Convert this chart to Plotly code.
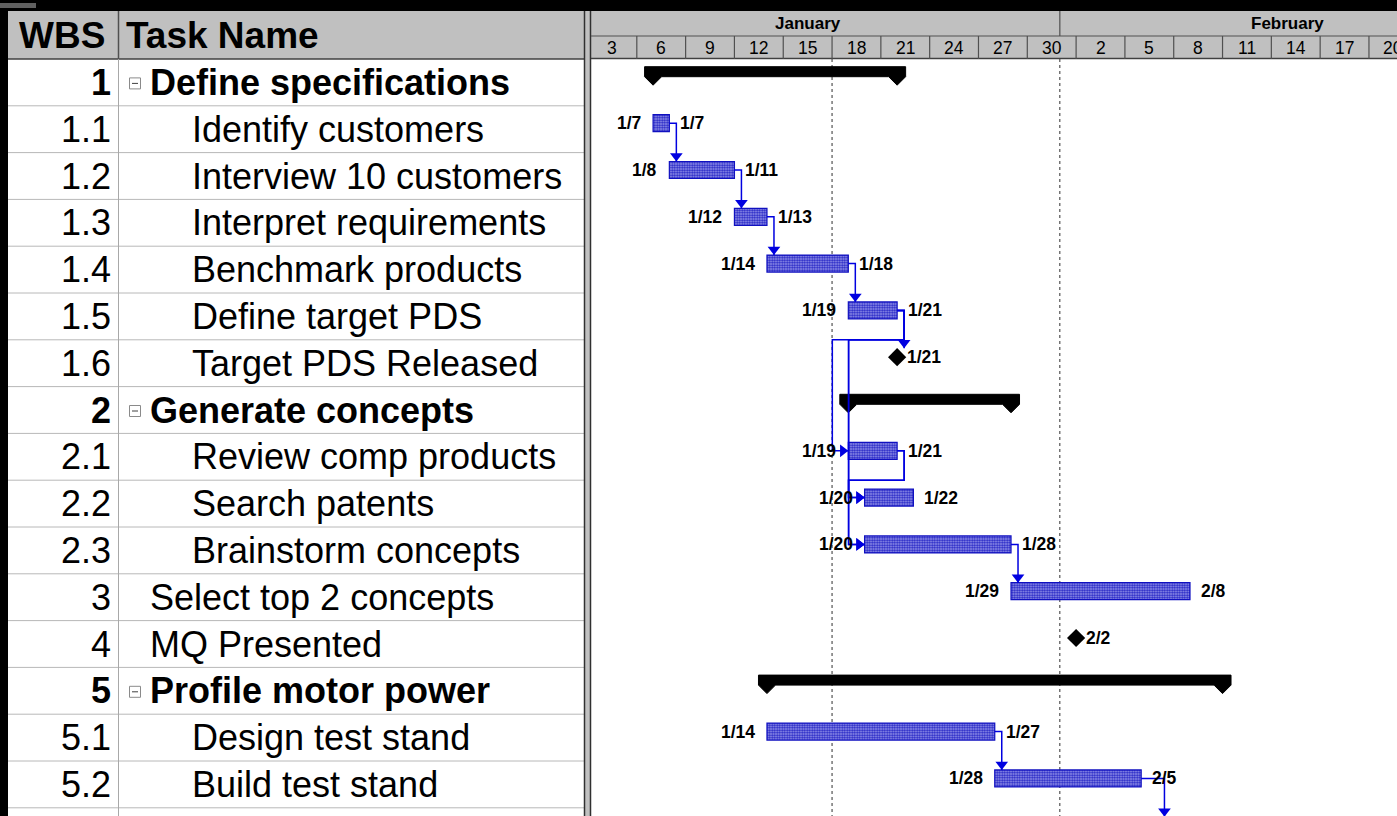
import plotly.graph_objects as go

W, H = 1397, 816

# ---------------- data ----------------
wbs = ["1", "1.1", "1.2", "1.3", "1.4", "1.5", "1.6", "2", "2.1", "2.2", "2.3",
       "3", "4", "5", "5.1", "5.2", "5.3"]
names = ["Define specifications", "Identify customers", "Interview 10 customers",
         "Interpret requirements", "Benchmark products", "Define target PDS",
         "Target PDS Released", "Generate concepts", "Review comp products",
         "Search patents", "Brainstorm concepts", "Select top 2 concepts",
         "MQ Presented", "Profile motor power", "Design test stand",
         "Build test stand", ""]
kinds = ["summary", "task", "task", "task", "task", "task", "milestone", "summary",
         "task", "task", "task", "task", "milestone", "summary", "task", "task", "task"]
starts = ["01-07", "01-07", "01-08", "01-12", "01-14", "01-19", "01-21", "01-19",
          "01-19", "01-20", "01-20", "01-29", "02-02", "01-14", "01-14", "01-28", "02-07"]
finishes = ["01-21", "01-07", "01-11", "01-13", "01-18", "01-21", "01-21", "01-28",
            "01-21", "01-22", "01-28", "02-08", "02-02", "02-10", "01-27", "02-05", "02-09"]
milestone_at_day_end = {"1.6": True, "4": False}
links = [("1.1", "1.2"), ("1.2", "1.3"), ("1.3", "1.4"), ("1.4", "1.5"),
         ("1.5", "1.6"), ("1.5", "2.1"), ("1.5", "2.2"), ("1.5", "2.3"),
         ("2.1", "2.2"), ("2.1", "2.3"), ("2.3", "3"), ("5.1", "5.2"), ("5.2", "5.3")]

months = ["January", "February"]
month_first = ["01-01", "02-01"]
month_len = [31, 28]
tick_labels = ["3", "6", "9", "12", "15", "18", "21", "24", "27", "30",
               "2", "5", "8", "11", "14", "17", "20"]
tick_dates = ["01-03", "01-06", "01-09", "01-12", "01-15", "01-18", "01-21", "01-24",
              "01-27", "01-30", "02-02", "02-05", "02-08", "02-11", "02-14", "02-17", "02-20"]
dotted_dates = ["01-18", "02-01"]

# ---------------- helpers ----------------
FONT = "Liberation Sans, Arial, sans-serif"
MONTH_OFFSET = {"01": 0, "02": 31}


def day(md):
    m, d = md.split("-")
    return MONTH_OFFSET[m] + int(d) - 1


def mlabel(md):
    m, d = md.split("-")
    return f"{int(m)}/{int(d)}"


PPD = 16.27            # pixels per day
X_REF_PX = 588         # pixel at start of Jan 3
X_REF_DAY = day("01-03")
GANTT_L = 591
ROW_TOP = 59
ROW_H = 46.8
HDR_TOP = 11
TIER_Y = 36


def dx(p):
    return p / PPD


def dy(p):
    return p / ROW_H


def px(x):
    return x / W


def py(y):
    return 1 - y / H


x_lo = X_REF_DAY + (GANTT_L - X_REF_PX) / PPD
x_hi = X_REF_DAY + (W - X_REF_PX) / PPD
y_hi = (H - ROW_TOP) / ROW_H

n = len(wbs)
row_of = {w: i for i, w in enumerate(wbs)}


def x_start(i):
    if kinds[i] == "milestone":
        return day(starts[i]) + (1 if milestone_at_day_end.get(wbs[i]) else 0)
    return day(starts[i])


def x_end(i):
    if kinds[i] == "milestone":
        return x_start(i)
    return day(finishes[i]) + 1


def y_bar(i):
    return i + 0.5 - dy(6)


def y_top(i):
    return y_bar(i) - dy(9 if kinds[i] == "milestone" else 8.5)


fig = go.Figure()

# ---------------- task bars ----------------
task_idx = [i for i in range(n) if kinds[i] == "task"]
fig.add_trace(go.Bar(
    orientation="h",
    y=[y_bar(i) for i in task_idx],
    base=[x_start(i) for i in task_idx],
    x=[x_end(i) - x_start(i) for i in task_idx],
    width=dy(17),
    marker=dict(color="#9898ea",
                pattern=dict(shape=".", fgcolor="#2222c4", bgcolor="#a4a4ee",
                             size=2.5, solidity=0.6, fillmode="replace"),
                line=dict(color="#1010c0", width=1.2)),
    hoverinfo="skip", showlegend=False,
))

# ---------------- summary bars ----------------
sx, sy = [], []
for i in range(n):
    if kinds[i] != "summary":
        continue
    s, e = x_start(i), x_end(i)
    yc = i + 0.5
    top, bot, tip = yc - dy(15.7), yc - dy(5.7), yc + dy(2.8)
    h = dx(8.5)
    pts = [(s - h, top), (e + h, top), (e + h, bot), (e, tip), (e - h, bot),
           (s + h, bot), (s, tip), (s - h, bot), (s - h, top)]
    sx += [p[0] for p in pts] + [None]
    sy += [p[1] for p in pts] + [None]
fig.add_trace(go.Scatter(x=sx, y=sy, mode="lines", fill="toself", fillcolor="black",
                         line=dict(color="black", width=1), hoverinfo="skip",
                         showlegend=False))

# ---------------- links ----------------
lx, ly = [], []
adx, ady, arx, ary = [], [], [], []
for p, s in links:
    ip, js = row_of[p], row_of[s]
    pe, ss = x_end(ip), x_start(js)
    yp = y_bar(ip)
    if ss >= pe - 1e-9:
        vx = max(pe, ss) + dx(7)
        yt = y_top(js)
        lx += [pe, vx, vx, None]
        ly += [yp, yp, yt, None]
        adx.append(vx)
        ady.append(yt - dy(5.5))
    else:
        vx1 = pe + dx(7)
        yb = ip + 1
        vx2 = ss - dx(16)
        ys = y_bar(js)
        lx += [pe, vx1, vx1, vx2, vx2, ss, None]
        ly += [yp, yp, yb, yb, ys, ys, None]
        arx.append(ss - dx(5.5))
        ary.append(ys)
fig.add_trace(go.Scatter(x=lx, y=ly, mode="lines", line=dict(color="#0000e0", width=1.5),
                         hoverinfo="skip", showlegend=False))
fig.add_trace(go.Scatter(x=adx, y=ady, mode="markers",
                         marker=dict(symbol="triangle-down", size=11, color="#0000e0",
                                     line=dict(width=0)),
                         hoverinfo="skip", showlegend=False))
fig.add_trace(go.Scatter(x=arx, y=ary, mode="markers",
                         marker=dict(symbol="triangle-right", size=11, color="#0000e0",
                                     line=dict(width=0)),
                         hoverinfo="skip", showlegend=False))

# ---------------- milestones ----------------
ms_idx = [i for i in range(n) if kinds[i] == "milestone"]
fig.add_trace(go.Scatter(x=[x_start(i) for i in ms_idx], y=[y_bar(i) for i in ms_idx],
                         mode="markers",
                         marker=dict(symbol="diamond", size=14, color="black",
                                     line=dict(width=0)),
                         hoverinfo="skip", showlegend=False))

ann = []
lab_font = dict(family=FONT, size=17.5, color="black", weight="bold")
for i in range(n):
    if kinds[i] == "task":
        ann.append(dict(x=x_start(i), y=y_bar(i), xref="x", yref="y", text=mlabel(starts[i]),
                        showarrow=False, xanchor="right", xshift=-10, font=lab_font))
        ann.append(dict(x=x_end(i), y=y_bar(i), xref="x", yref="y", text=mlabel(finishes[i]),
                        showarrow=False, xanchor="left", xshift=9, font=lab_font))
    elif kinds[i] == "milestone":
        ann.append(dict(x=x_start(i), y=y_bar(i), xref="x", yref="y", text=mlabel(finishes[i]),
                        showarrow=False, xanchor="left", xshift=8, font=lab_font))

# ---------------- shapes (table, headers) ----------------
shapes = []


def rect(x0, y0, x1, y1, fill, lc=None, lw=0):
    shapes.append(dict(type="rect", xref="paper", yref="paper", x0=px(x0), x1=px(x1),
                       y0=py(y0), y1=py(y1), fillcolor=fill, layer="below",
                       line=dict(width=lw, color=lc or fill)))


def hline(x0, x1, y, c, w=1):
    shapes.append(dict(type="line", xref="paper", yref="paper", x0=px(x0), x1=px(x1),
                       y0=py(y), y1=py(y), line=dict(color=c, width=w)))


def vline(x, y0, y1, c, w=1):
    shapes.append(dict(type="line", xref="paper", yref="paper", x0=px(x), x1=px(x),
                       y0=py(y0), y1=py(y1), line=dict(color=c, width=w)))


# top-left artifact
rect(0, 3, 36, 8, "#606060")
# table
rect(8, HDR_TOP, 584, ROW_TOP, "#c0c0c0")
rect(8, ROW_TOP, 584, H, "white")
for k in range(1, 17):
    hline(8, 584, ROW_TOP + k * ROW_H, "#b8b8b8", 1)
hline(8, 584, ROW_TOP, "#404040", 1.5)
vline(118.5, HDR_TOP, ROW_TOP, "#505050", 1.5)
vline(118.5, ROW_TOP, H, "#a8a8a8", 1)
# divider between table and chart
rect(584, HDR_TOP, 591, H, "#c0c0c0")
vline(584.5, HDR_TOP, H, "#303030", 1.5)
vline(590.5, HDR_TOP, H, "#303030", 1.5)
# gantt header
rect(591, HDR_TOP, W, ROW_TOP, "#c0c0c0")
hline(591, W, TIER_Y, "#505050", 1.2)
hline(591, W, ROW_TOP - 0.5, "#404040", 1.5)
for d in tick_dates[1:]:
    shapes.append(dict(type="line", xref="x", yref="paper", x0=day(d), x1=day(d),
                       y0=py(TIER_Y), y1=py(ROW_TOP), line=dict(color="#505050", width=1.2)))
for mf in month_first:
    if x_lo < day(mf) < x_hi:
        shapes.append(dict(type="line", xref="x", yref="paper", x0=day(mf), x1=day(mf),
                           y0=py(HDR_TOP), y1=py(TIER_Y), line=dict(color="#505050", width=1.2)))
# dotted lines in chart
for d in dotted_dates:
    shapes.append(dict(type="line", xref="x", yref="y", x0=day(d), x1=day(d),
                       y0=0, y1=y_hi, layer="below",
                       line=dict(color="#303030", width=1, dash="dot")))

# collapse boxes for summary rows
for i in range(n):
    if kinds[i] == "summary":
        yc = ROW_TOP + (i + 0.5) * ROW_H + 1
        shapes.append(dict(type="rect", xref="paper", yref="paper", x0=px(129.5), x1=px(140.5),
                           y0=py(yc - 5.5), y1=py(yc + 5.5), fillcolor="white",
                           line=dict(color="#8a8a8a", width=1)))
        hline(132, 138, yc, "#404040", 1)

# ---------------- table text ----------------
hdr_font = dict(family=FONT, size=37, color="black", weight="bold")
ann.append(dict(x=px(62), y=py(36), xref="paper", yref="paper", text="WBS",
                showarrow=False, xanchor="center", yanchor="middle", font=hdr_font))
ann.append(dict(x=px(124), y=py(36), xref="paper", yref="paper", text="Task Name",
                showarrow=False, xanchor="left", yanchor="middle", font=hdr_font))
for i in range(n):
    yc = ROW_TOP + (i + 0.5) * ROW_H
    if yc > H - 5:
        continue
    bold = kinds[i] == "summary"
    f = dict(family=FONT, size=36, color="black", weight="bold" if bold else "normal")
    level = wbs[i].count(".") + 1
    ann.append(dict(x=px(113), y=py(yc), xref="paper", yref="paper", text=wbs[i],
                    showarrow=False, xanchor="right", yanchor="middle", font=f))
    if names[i]:
        ann.append(dict(x=px(148 if level == 1 else 190), y=py(yc), xref="paper", yref="paper",
                        text=names[i], showarrow=False, xanchor="left", yanchor="middle", font=f))

# ---------------- timescale text ----------------
tick_font = dict(family=FONT, size=17.5, color="black")
for lab, d in zip(tick_labels, tick_dates):
    ann.append(dict(x=day(d) + 1.5, y=py((TIER_Y + ROW_TOP) / 2), xref="x", yref="paper",
                    text=lab, showarrow=False, xanchor="center", yanchor="middle", font=tick_font))
mfont = dict(family=FONT, size=17, color="black", weight="bold")
for m, mf, ml in zip(months, month_first, month_len):
    ann.append(dict(x=day(mf) + ml / 2, y=py((HDR_TOP + TIER_Y) / 2), xref="x", yref="paper",
                    text=m, showarrow=False, xanchor="center", yanchor="middle", font=mfont))

fig.update_layout(
    width=W, height=H, margin=dict(l=0, r=0, t=0, b=0),
    paper_bgcolor="black", plot_bgcolor="white",
    barmode="overlay", hovermode=False, showlegend=False,
    xaxis=dict(domain=[GANTT_L / W, 1], range=[x_lo, x_hi], showgrid=False, zeroline=False,
               showticklabels=False, ticks="", showline=False, fixedrange=True),
    yaxis=dict(domain=[0, (H - ROW_TOP) / H], range=[y_hi, 0], showgrid=False, zeroline=False,
               showticklabels=False, ticks="", showline=False, fixedrange=True),
    shapes=shapes, annotations=ann,
)

fig.write_html("out.html", config={"displayModeBar": False},
               post_script="document.body.style.margin='0';document.body.style.background='black';")
